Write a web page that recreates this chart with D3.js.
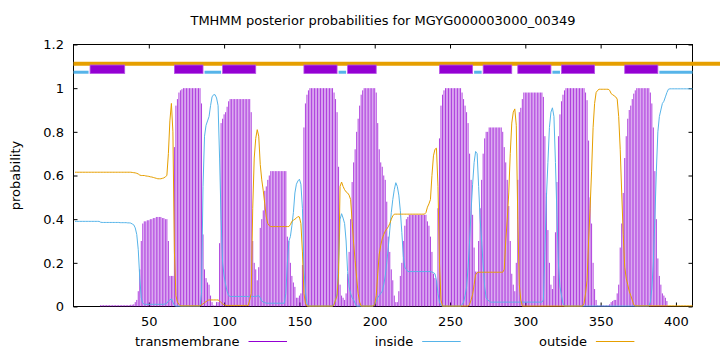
<!DOCTYPE html>
<html>
<head>
<meta charset="utf-8">
<script src="https://cdn.jsdelivr.net/npm/d3@7"></script>
<style>
  body { margin: 0; background: #fff; }
  svg { display: block; font-family: "DejaVu Sans", sans-serif; }
</style>
</head>
<body>
<div id="tmplot"></div>
<script>
// -------------------------------------------------------------------------
// TMHMM posterior probabilities, one value per residue (1..411)
// -------------------------------------------------------------------------
const tmProb = [
  0,0,0,0,0,0,0,0,0,0,                                              // 1
  0,0,0,0,0,0,0,0.006,0.006,0.006,                                  // 11
  0.006,0.006,0.006,0.006,0.006,0.006,0.006,0.006,0.006,0.006,      // 21
  0.006,0.006,0.006,0.006,0.006,0.006,0.006,0.008,0.008,0.01,       // 31
  0.02,0.03,0.07,0.17,0.3,0.38,0.39,0.39,0.395,0.395,               // 41
  0.4,0.4,0.405,0.405,0.41,0.41,0.41,0.41,0.405,0.405,              // 51
  0.4,0.4,0.3,0.14,0.14,0.14,0.73,0.92,0.95,0.98,                   // 61
  0.99,0.995,1,1,1,1,1,1,1,1,                                       // 71
  1,1,1,1,0.93,0.33,0.17,0.13,0.11,0.1,                             // 81
  0.05,0.02,0.005,0.005,0.02,0.02,0.29,0.84,0.86,0.88,              // 91
  0.89,0.915,0.94,0.95,0.95,0.95,0.95,0.95,0.95,0.95,               // 101
  0.95,0.95,0.95,0.95,0.95,0.95,0.95,0.89,0.3,0.2,                  // 111
  0.17,0.12,0.18,0.36,0.4,0.44,0.53,0.55,0.58,0.6,                  // 121
  0.62,0.62,0.62,0.62,0.62,0.62,0.62,0.62,0.62,0.62,                // 131
  0.62,0.32,0.3,0.2,0.14,0.11,0.09,0.04,0.04,0.05,                  // 141
  0.06,0.19,0.82,0.93,0.97,0.99,1,1,1,1,                            // 151
  1,1,1,1,1,1,1,1,1,1,                                              // 161
  1,1,0.98,0.95,0.89,0.64,0.1,0.05,0.04,0.03,                       // 171
  0.06,0.15,0.25,0.4,0.57,0.66,0.72,0.8,0.86,0.92,                  // 181
  0.97,0.99,1,1,1,1,1,1,1,1,                                        // 191
  0.98,0.84,0.72,0.66,0.64,0.6,0.58,0.48,0.32,0.25,                 // 201
  0.17,0.12,0.05,0.02,0.02,0.07,0.14,0.2,0.3,0.37,                  // 211
  0.4,0.41,0.42,0.42,0.42,0.42,0.42,0.42,0.42,0.42,                 // 221
  0.42,0.42,0.42,0.42,0.39,0.37,0.32,0.25,0.15,0.13,                // 231
  0.12,0.45,0.77,0.92,0.97,0.99,1,1,1,1,                            // 241
  1,1,1,1,1,1,1,0.98,0.95,0.92,                                     // 251
  0.89,0.84,0.7,0.58,0.42,0.27,0.16,0.16,0.3,0.45,                  // 261
  0.58,0.7,0.77,0.8,0.8,0.82,0.82,0.82,0.82,0.82,                   // 271
  0.82,0.82,0.82,0.82,0.8,0.73,0.66,0.58,0.46,0.3,                  // 281
  0.15,0.1,0.07,0.2,0.58,0.89,0.91,0.95,0.98,0.98,                  // 291
  0.98,0.98,0.98,0.98,0.98,0.98,0.98,0.98,0.98,0.98,                // 301
  0.98,0.96,0.78,0.52,0.35,0.2,0.1,0.08,0.14,0.34,                  // 311
  0.57,0.78,0.88,0.94,0.97,0.99,1,1,1,1,                            // 321
  1,1,1,1,1,1,1,1,1,0.98,                                           // 331
  0.945,0.76,0.5,0.38,0.2,0.08,0.03,0.005,0.005,0.005,              // 341
  0.005,0.005,0.005,0.005,0.005,0.01,0.02,0.025,0.03,0.03,          // 351
  0.06,0.1,0.27,0.38,0.52,0.68,0.78,0.86,0.9,0.92,                  // 361
  0.95,0.975,0.99,1,1,1,1,1,1,1,                                    // 371
  1,1,0.98,0.93,0.82,0.62,0.4,0.22,0.14,0.1,                        // 381
  0.06,0.05,0.04,0.025,0,0,0,0,0,0,                                 // 391
  0,0,0,0,0,0,0,0,0,0,                                              // 401
  0                                                                 // 411
];

const insideProb = [
  0.39,0.39,0.39,0.39,0.39,0.39,0.39,0.39,0.39,0.39,
  0.39,0.39,0.39,0.39,0.39,0.39,0.39,0.386,0.385,0.385,
  0.385,0.385,0.385,0.385,0.385,0.385,0.385,0.385,0.385,0.385,
  0.384,0.384,0.384,0.384,0.384,0.383,0.383,0.382,0.378,0.374,
  0.36,0.33,0.26,0.13,0.04,0.015,0.01,0.01,0.01,0.01,
  0.01,0.01,0.01,0.01,0.01,0.01,0.01,0.01,0.01,0.01,
  0.012,0.015,0.025,0.03,0.035,0.02,0.005,0.002,0.002,0.002,
  0.002,0.002,0.002,0.002,0.002,0.002,0.002,0.002,0.002,0.002,
  0.002,0.002,0.002,0.002,0.06,0.55,0.78,0.83,0.85,0.87,
  0.92,0.96,0.97,0.97,0.955,0.92,0.68,0.4,0.2,0.14,
  0.1,0.07,0.05,0.046,0.046,0.046,0.046,0.046,0.046,0.046,
  0.046,0.046,0.046,0.046,0.046,0.046,0.046,0.046,0.046,0.046,
  0.046,0.048,0.05,0.04,0.025,0.02,0.018,0.015,0.015,0.015,
  0.015,0.015,0.015,0.015,0.015,0.015,0.015,0.015,0.015,0.015,
  0.06,0.2,0.3,0.32,0.37,0.43,0.52,0.56,0.575,0.583,
  0.56,0.45,0.17,0.07,0.015,0.002,0.002,0.002,0.002,0.002,
  0.002,0.002,0.002,0.002,0.002,0.002,0.002,0.002,0.002,0.002,
  0.002,0.002,0.01,0.03,0.06,0.2,0.4,0.425,0.405,0.38,
  0.3,0.16,0.09,0.06,0.04,0.03,0.015,0.002,0.002,0.002,
  0.002,0.002,0.002,0.002,0.002,0.002,0.002,0.002,0.002,0.01,
  0.025,0.04,0.05,0.06,0.07,0.1,0.14,0.2,0.27,0.35,
  0.43,0.49,0.535,0.567,0.55,0.51,0.44,0.34,0.23,0.18,
  0.17,0.16,0.16,0.16,0.16,0.16,0.16,0.16,0.16,0.16,
  0.16,0.16,0.16,0.16,0.16,0.16,0.16,0.158,0.155,0.15,
  0.12,0.06,0.02,0.005,0.002,0.002,0.002,0.002,0.002,0.002,
  0.002,0.002,0.002,0.002,0.002,0.002,0.002,0.008,0.02,0.05,
  0.09,0.18,0.3,0.44,0.56,0.66,0.71,0.7,0.55,0.4,
  0.3,0.19,0.09,0.04,0.03,0.025,0.02,0.02,0.02,0.02,
  0.02,0.02,0.02,0.02,0.02,0.02,0.02,0.02,0.02,0.02,
  0.02,0.02,0.02,0.02,0.02,0.02,0.02,0.02,0.02,0.02,
  0.02,0.02,0.02,0.02,0.02,0.02,0.02,0.02,0.02,0.02,
  0.02,0.03,0.25,0.5,0.66,0.82,0.89,0.91,0.87,0.66,
  0.42,0.19,0.09,0.05,0.015,0.002,0.002,0.002,0.002,0.002,
  0.002,0.002,0.002,0.002,0.002,0.002,0.002,0.002,0.002,0.002,
  0.002,0.002,0.002,0.002,0.002,0.002,0.002,0.002,0.002,0.002,
  0.002,0.002,0.002,0.002,0.002,0.002,0.002,0.002,0.002,0.002,
  0.002,0.002,0.002,0.002,0.002,0.002,0.002,0.002,0.002,0.002,
  0.002,0.002,0.002,0.002,0.002,0.002,0.002,0.002,0.002,0.002,
  0.002,0.002,0.02,0.08,0.2,0.4,0.62,0.8,0.87,0.9,
  0.93,0.94,0.96,0.98,0.995,0.997,0.997,0.997,0.997,0.997,
  0.997,0.997,0.997,0.997,0.997,0.997,0.997,0.997,0.997,0.997,
  0.997
];

const outsideProb = [
  0.615,0.615,0.615,0.615,0.615,0.615,0.615,0.615,0.615,0.615,
  0.615,0.615,0.615,0.615,0.615,0.615,0.615,0.615,0.615,0.615,
  0.615,0.615,0.615,0.615,0.615,0.615,0.615,0.615,0.615,0.615,
  0.615,0.615,0.615,0.615,0.615,0.615,0.615,0.615,0.614,0.613,
  0.612,0.61,0.607,0.602,0.6,0.6,0.6,0.598,0.597,0.596,
  0.594,0.593,0.591,0.589,0.587,0.585,0.585,0.585,0.587,0.589,
  0.594,0.6,0.7,0.85,0.93,0.8,0.25,0.05,0.02,0.01,
  0.003,0.003,0.003,0.003,0.003,0.003,0.003,0.003,0.003,0.003,
  0.003,0.003,0.003,0.003,0.008,0.012,0.018,0.022,0.028,0.03,
  0.03,0.03,0.03,0.03,0.03,0.03,0.025,0.018,0.012,0.008,
  0.005,0.005,0.005,0.005,0.005,0.005,0.005,0.005,0.005,0.005,
  0.005,0.005,0.005,0.005,0.005,0.005,0.03,0.06,0.45,0.68,
  0.77,0.81,0.78,0.65,0.58,0.53,0.47,0.41,0.38,0.37,
  0.366,0.366,0.366,0.366,0.366,0.366,0.366,0.366,0.366,0.366,
  0.366,0.366,0.366,0.375,0.39,0.395,0.4,0.405,0.412,0.41,
  0.38,0.25,0.06,0.015,0.002,0.002,0.002,0.002,0.002,0.002,
  0.002,0.002,0.002,0.002,0.002,0.002,0.002,0.002,0.002,0.002,
  0.002,0.002,0.008,0.03,0.05,0.15,0.55,0.57,0.55,0.535,
  0.525,0.52,0.51,0.49,0.39,0.29,0.21,0.13,0.06,0.02,
  0.002,0.002,0.002,0.002,0.002,0.002,0.002,0.002,0.002,0.01,
  0.05,0.15,0.24,0.28,0.31,0.33,0.345,0.355,0.365,0.38,
  0.4,0.415,0.423,0.423,0.423,0.423,0.423,0.423,0.423,0.423,
  0.423,0.423,0.423,0.423,0.423,0.423,0.423,0.423,0.423,0.423,
  0.423,0.423,0.423,0.43,0.455,0.47,0.49,0.6,0.69,0.72,
  0.725,0.55,0.2,0.03,0.002,0.002,0.002,0.002,0.002,0.002,
  0.002,0.002,0.002,0.002,0.002,0.002,0.002,0.002,0.002,0.002,
  0.002,0.002,0.01,0.03,0.055,0.1,0.145,0.155,0.157,0.157,
  0.157,0.157,0.157,0.157,0.157,0.157,0.157,0.157,0.157,0.157,
  0.157,0.157,0.157,0.157,0.157,0.17,0.3,0.4,0.52,0.7,
  0.84,0.89,0.905,0.83,0.4,0.1,0.03,0.002,0.002,0.002,
  0.002,0.002,0.002,0.002,0.002,0.002,0.002,0.002,0.002,0.002,
  0.002,0.002,0.002,0.002,0.002,0.002,0.002,0.002,0.002,0.002,
  0.002,0.002,0.002,0.002,0.002,0.002,0.002,0.002,0.002,0.002,
  0.002,0.002,0.002,0.002,0.002,0.002,0.002,0.002,0.015,0.06,
  0.12,0.3,0.45,0.62,0.82,0.93,0.98,0.99,0.995,0.995,
  0.995,0.995,0.995,0.995,0.995,0.99,0.975,0.97,0.965,0.96,
  0.95,0.87,0.72,0.52,0.33,0.18,0.13,0.1,0.07,0.05,
  0.03,0.008,0.003,0.003,0.003,0.003,0.003,0.003,0.003,0.003,
  0.003,0.003,0.003,0.003,0.003,0.003,0.003,0.003,0.003,0.003,
  0.003,0.003,0.003,0.003,0.003,0.003,0.003,0.003,0.003,0.003,
  0.003,0.003,0.003,0.003,0.003,0.003,0.003,0.003,0.003,0.003,
  0.003
];

// predicted topology (residue ranges) shown above the curves
const helices = [[11,34],[67,86],[99,121],[153,175],[182,201],
                 [243,265],[272,291],[295,317],[324,346],[366,388]];
const insideSegs = [[0,10],[87,98],[176,181],[266,271],[318,323],[389,411]];
const outsideSegs = [[0,430]];   // runs off past the frame like the original

const seqLength = 411;
const xTicks = [50, 100, 150, 200, 250, 300, 350, 400];
const yTicks = [0, 0.2, 0.4, 0.6, 0.8, 1, 1.2];
const seriesNames = ["transmembrane", "inside", "outside"];
const seriesColors = ["#9400d3", "#56b4e9", "#e69f00"];
const titleText = "TMHMM posterior probabilities for MGYG000003000_00349";

// set the dimensions and margins of the graph
const margin = {top: 44.5, right: 27.5, bottom: 45.5, left: 73.5},
    width = 720 - margin.left - margin.right,
    height = 352 - margin.top - margin.bottom;

const root = d3.select("#tmplot")
  .append("svg")
    .attr("width", 720)
    .attr("height", 352);

root.append("rect").attr("width", 720).attr("height", 352).attr("fill", "#fff");

const svg = root.append("g")
    .attr("transform", `translate(${margin.left},${margin.top})`);

const x = d3.scaleLinear().domain([0, seqLength]).range([0, width]);
const y = d3.scaleLinear().domain([0, 1.2]).range([height, 0]);

// frame
svg.append("rect")
  .attr("width", width).attr("height", height)
  .attr("fill", "none").attr("stroke", "#000").attr("stroke-width", 1);

// axes (ticks point inward, mirrored on top/right)
const fmt = d3.format("~g");
const styleAxis = g => {
  g.select(".domain").remove();
  g.selectAll("text").attr("font-size", 13).attr("fill", "#000")
    .attr("font-family", "DejaVu Sans, sans-serif");
  g.selectAll("line").attr("stroke", "#000");
};
svg.append("g").attr("transform", `translate(0,${height})`)
  .call(d3.axisBottom(x).tickValues(xTicks).tickSize(-4).tickPadding(10).tickFormat(fmt))
  .call(styleAxis);
svg.append("g")
  .call(d3.axisLeft(y).tickValues(yTicks).tickSize(-4).tickPadding(9.5).tickFormat(fmt))
  .call(styleAxis);
svg.append("g")
  .call(d3.axisTop(x).tickValues(xTicks).tickSize(-4).tickFormat(""))
  .call(styleAxis);
svg.append("g").attr("transform", `translate(${width},0)`)
  .call(d3.axisRight(y).tickValues(yTicks).tickSize(-4).tickFormat(""))
  .call(styleAxis);

// transmembrane: impulses
svg.append("g").selectAll("line")
  .data(tmProb)
  .join("line")
    .attr("x1", (d, i) => x(i + 1)).attr("x2", (d, i) => x(i + 1))
    .attr("y1", y(0)).attr("y2", d => y(d))
    .attr("stroke", seriesColors[0]).attr("stroke-width", 0.75);

// inside / outside lines
const probLine = d3.line().x((d, i) => x(i + 1)).y(d => y(d));
[insideProb, outsideProb].forEach((s, k) => {
  svg.append("path")
    .datum(s)
    .attr("fill", "none")
    .attr("stroke", seriesColors[k + 1])
    .attr("stroke-width", 1)
    .attr("d", probLine);
});

// topology track above the curves
svg.append("g").selectAll("line")
  .data(outsideSegs)
  .join("line")
    .attr("x1", d => x(d[0])).attr("x2", d => x(d[1]))
    .attr("y1", y(1.112)).attr("y2", y(1.112))
    .attr("stroke", seriesColors[2]).attr("stroke-width", 4);
svg.append("g").selectAll("line")
  .data(insideSegs)
  .join("line")
    .attr("x1", d => x(d[0])).attr("x2", d => x(d[1]))
    .attr("y1", y(1.073)).attr("y2", y(1.073))
    .attr("stroke", seriesColors[1]).attr("stroke-width", 3);
svg.append("g").selectAll("rect")
  .data(helices)
  .join("rect")
    .attr("x", d => x(d[0])).attr("width", d => x(d[1]) - x(d[0]))
    .attr("y", y(1.106)).attr("height", y(1.067) - y(1.106))
    .attr("fill", seriesColors[0])
    .attr("stroke", "#b855e6").attr("stroke-width", 0.8);

// title and y label
root.append("text")
  .attr("x", margin.left + width / 2).attr("y", 25)
  .attr("text-anchor", "middle").attr("font-size", 13)
  .text(titleText);
root.append("text")
  .attr("transform", `translate(20,${margin.top + height / 2}) rotate(-90)`)
  .attr("text-anchor", "middle").attr("font-size", 13)
  .text("probability");

// legend along the bottom
const legend = root.append("g").selectAll("g")
  .data(seriesNames)
  .join("g")
    .attr("transform", (d, i) => `translate(${239.5 + i * 173.7},346)`);
legend.append("text")
  .attr("text-anchor", "end").attr("font-size", 13)
  .text(d => d);
legend.append("line")
  .attr("x1", 9).attr("x2", 47.5)
  .attr("y1", -4.5).attr("y2", -4.5)
  .attr("stroke", (d, i) => seriesColors[i]).attr("stroke-width", 1);
</script>
</body>
</html>
